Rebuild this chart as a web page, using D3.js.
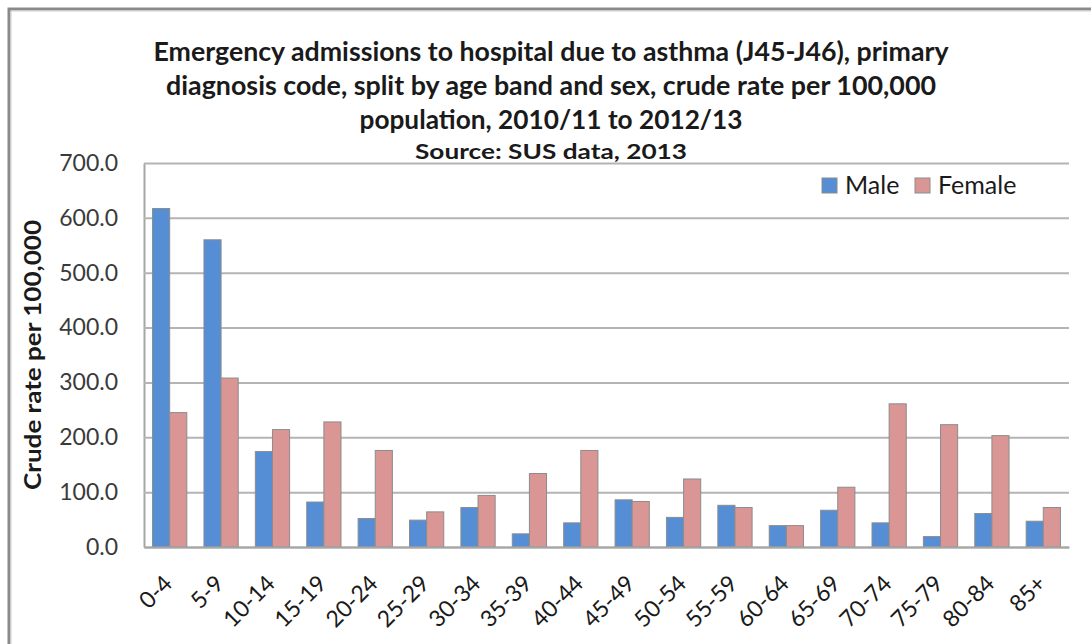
<!DOCTYPE html>
<html>
<head>
<meta charset="utf-8">
<script src="https://cdn.jsdelivr.net/npm/d3@7"></script>
<style>
  body { margin: 0; background: #fff; }
  svg { display: block; font-family: Lato, "Open Sans", sans-serif; }
</style>
</head>
<body>
<div id="chart"></div>
<script>
const ageBands = ["0-4", "5-9", "10-14", "15-19", "20-24", "25-29", "30-34", "35-39", "40-44",
    "45-49", "50-54", "55-59", "60-64", "65-69", "70-74", "75-79", "80-84", "85+"];
const male = [617, 560, 174, 82, 52, 49, 72, 24, 44, 86, 54, 76, 39, 67, 44, 19, 61, 47];
const female = [245, 308, 214, 228, 176, 64, 94, 134, 176, 83, 124, 72, 39, 109, 261, 223, 203, 72];
const seriesNames = ["Male", "Female"];
const yTicks = [0, 100, 200, 300, 400, 500, 600, 700];
const titleLines = [
    "Emergency admissions to hospital due to asthma (J45-J46), primary",
    "diagnosis code, split by age band and sex, crude rate per 100,000",
    "population,  2010/11 to 2012/13"
];
const subtitle = "Source: SUS data, 2013";

const width = 1091, height = 644;
const margin = {top: 163, right: 22, bottom: 97, left: 144};
const plotW = width - margin.left - margin.right;
const plotH = height - margin.top - margin.bottom;
const colors = {Male: "#558ed5", Female: "#d99694"};

const svg = d3.select("#chart")
    .append("svg")
    .attr("width", width)
    .attr("height", height);

// outer frame of the chart object (clipped at right and bottom)
svg.append("path")
    .attr("d", `M9,${height} V9 H${width}`)
    .attr("fill", "none")
    .attr("stroke", "#8a8a8a")
    .attr("stroke-width", 3);
svg.append("path")
    .attr("d", `M11,${height} V11 H${width}`)
    .attr("fill", "none")
    .attr("stroke", "#d0d0d0")
    .attr("stroke-width", 1);

// title
const titleWidths = [795, 770, 383];
const titleY = [61, 95, 129];
titleLines.forEach((line, i) => {
    svg.append("text")
        .attr("x", 551)
        .attr("y", titleY[i])
        .attr("text-anchor", "middle")
        .attr("font-weight", "bold")
        .attr("font-size", 26)
        .attr("fill", "#1a1a1a")
        .attr("textLength", titleWidths[i])
        .attr("lengthAdjust", "spacingAndGlyphs")
        .text(line);
});
svg.append("text")
    .attr("x", 551)
    .attr("y", 159)
    .attr("text-anchor", "middle")
    .attr("font-weight", "bold")
    .attr("font-size", 21)
    .attr("fill", "#1a1a1a")
    .attr("textLength", 272)
    .attr("lengthAdjust", "spacingAndGlyphs")
    .text(subtitle);

const chart = svg.append("g")
    .attr("transform", `translate(${margin.left},${margin.top})`);

const x0 = d3.scaleBand()
    .domain(ageBands)
    .range([0, plotW])
    .padding(0);
const x1 = d3.scaleBand()
    .domain(seriesNames)
    .range([0, x0.bandwidth()])
    .paddingInner(0)
    .paddingOuter(0.5);
const y = d3.scaleLinear()
    .domain([0, 700])
    .range([plotH, 0]);

// y axis with gridlines
const yAxis = chart.append("g")
    .call(d3.axisLeft(y)
        .tickValues(yTicks)
        .tickFormat(d3.format(".1f"))
        .tickSize(-plotW)
        .tickSizeOuter(0)
        .tickPadding(26));
yAxis.select(".domain").attr("stroke", "#a6a6a6").attr("stroke-width", 2);
yAxis.selectAll(".tick line").attr("stroke", "#b4b4b4").attr("stroke-width", 2);
yAxis.selectAll(".tick text")
    .attr("font-size", 23)
    .attr("fill", "#3a3a3a")
    .attr("font-family", "Lato, sans-serif");

// bars
const rows = ageBands.map((band, i) => ({band: band, Male: male[i], Female: female[i]}));
const groups = chart.selectAll(".band")
    .data(rows)
    .enter()
    .append("g")
    .attr("transform", d => `translate(${x0(d.band)},0)`);
groups.selectAll("rect")
    .data(d => seriesNames.map(name => ({name: name, value: d[name]})))
    .enter()
    .append("rect")
    .attr("x", d => x1(d.name))
    .attr("y", d => y(d.value))
    .attr("width", x1.bandwidth())
    .attr("height", d => plotH - y(d.value))
    .attr("fill", d => colors[d.name])
    .attr("stroke", "#8c8c8c")
    .attr("stroke-width", 1);

// x axis
const xAxis = chart.append("g")
    .attr("transform", `translate(0,${plotH})`)
    .call(d3.axisBottom(x0).tickSize(0).tickSizeOuter(0).tickPadding(0));
xAxis.select(".domain").attr("stroke", "#a6a6a6").attr("stroke-width", 2);
xAxis.selectAll(".tick text")
    .attr("font-size", 23)
    .attr("fill", "#1a1a1a")
    .attr("font-family", "Lato, sans-serif")
    .attr("text-anchor", "end")
    .attr("dy", 0)
    .attr("y", 0)
    .attr("transform", "translate(4,38) rotate(-45)");

// y axis title
svg.append("text")
    .attr("transform", "translate(41,355) rotate(-90)")
    .attr("text-anchor", "middle")
    .attr("font-weight", "bold")
    .attr("font-size", 23)
    .attr("fill", "#1a1a1a")
    .attr("textLength", 270)
    .attr("lengthAdjust", "spacingAndGlyphs")
    .text("Crude rate per 100,000");

// legend
const legend = svg.append("g");
const legendX = [822, 915];
seriesNames.forEach((name, i) => {
    legend.append("rect")
        .attr("x", legendX[i])
        .attr("y", 178)
        .attr("width", 15)
        .attr("height", 15)
        .attr("fill", colors[name])
        .attr("stroke", "#8c8c8c")
        .attr("stroke-width", 1);
    legend.append("text")
        .attr("x", legendX[i] + 23)
        .attr("y", 194)
        .attr("font-size", 25)
        .attr("fill", "#1a1a1a")
        .text(name);
});
</script>
</body>
</html>
